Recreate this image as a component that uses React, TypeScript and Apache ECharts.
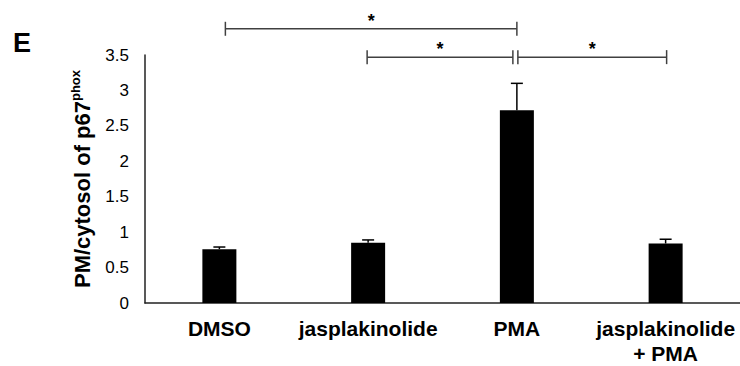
import React, { useEffect, useRef } from "react";
import * as echarts from "echarts";

const categories = ["DMSO", "jasplakinolide", "PMA", "jasplakinolide\n+ PMA"];
const means = [0.76, 0.85, 2.72, 0.84];
const errors = [0.03, 0.04, 0.38, 0.06];
// significance brackets: [fromCategoryIndex, toCategoryIndex, level (axis units)]
const brackets: [number, number, number][] = [
  [0, 2, 3.87],
  [1, 2, 3.47],
  [2, 3, 3.47],
];
const bracketLabels = ["*", "*", "*"];

const FONT = "'Liberation Sans', Arial, Helvetica, sans-serif";

export default function App() {
  const ref = useRef<HTMLDivElement>(null);
  useEffect(() => {
    if (!ref.current) return;
    const chart = echarts.init(ref.current, undefined, { renderer: "svg" });
    // pixel nudges for bracket ends (from, to) to mimic hand placement
    const nudges: [number, number][] = [
      [6, 0],
      [-1, -4],
      [1, 1],
    ];
    chart.setOption({
      animation: false,
      backgroundColor: "#ffffff",
      graphic: [
        {
          type: "text",
          left: 13,
          top: 29,
          style: { text: "E", font: `bold 27px ${FONT}`, fill: "#000" },
        },
      ],
      grid: { left: 145, top: 55, width: 598, bottom: 61, containLabel: false },
      xAxis: {
        type: "category",
        data: categories,
        axisLine: { show: true, lineStyle: { color: "#222", width: 1.5 } },
        axisTick: { show: false },
        axisLabel: {
          interval: 0,
          margin: 13,
          color: "#000",
          fontFamily: FONT,
          fontWeight: "bold",
          fontSize: 21,
          lineHeight: 25,
        },
      },
      yAxis: {
        type: "value",
        min: 0,
        max: 3.5,
        interval: 0.5,
        splitLine: { show: false },
        axisTick: { show: false },
        axisLine: { show: true, lineStyle: { color: "#222", width: 1.5 } },
        axisLabel: {
          margin: 16,
          color: "#000",
          fontFamily: FONT,
          fontSize: 17,
        },
        name: "{m|PM/cytosol of p67}{s|phox}",
        nameLocation: "middle",
        nameGap: 52,
        nameRotate: 90,
        nameTextStyle: {
          rich: {
            m: { fontFamily: FONT, fontWeight: "bold", fontSize: 22, color: "#000", lineHeight: 24, verticalAlign: "bottom" },
            s: { fontFamily: FONT, fontWeight: "bold", fontSize: 13, color: "#000", lineHeight: 24, verticalAlign: "top", padding: [0, 0, 9, 0] },
          },
        },
      },
      series: [
        {
          type: "bar",
          data: means,
          barWidth: 34,
          itemStyle: { color: "#000" },
        },
        {
          type: "custom",
          data: means.map((m, i) => [i, m, m + errors[i]]),
          clip: false,
          z: 3,
          renderItem: (params: any, api: any) => {
            const i = api.value(0);
            const base = api.coord([i, api.value(1)]);
            const top = api.coord([i, api.value(2)]);
            const hw = 6;
            return {
              type: "group",
              children: [
                { type: "line", shape: { x1: base[0], y1: base[1], x2: top[0], y2: top[1] }, style: { stroke: "#000", lineWidth: 1.5 } },
                { type: "line", shape: { x1: top[0] - hw, y1: top[1], x2: top[0] + hw, y2: top[1] }, style: { stroke: "#000", lineWidth: 1.5 } },
              ],
            };
          },
        },
        {
          type: "custom",
          data: brackets.map((b, k) => [b[0], b[1], b[2], k]),
          clip: false,
          z: 3,
          renderItem: (params: any, api: any) => {
            const k = api.value(3);
            const a = api.coord([api.value(0), api.value(2)]);
            const b = api.coord([api.value(1), api.value(2)]);
            const x1 = a[0] + nudges[k][0];
            const x2 = b[0] + nudges[k][1];
            const y = a[1];
            const t = 7;
            const st = { stroke: "#404040", lineWidth: 1.5 };
            return {
              type: "group",
              children: [
                { type: "line", shape: { x1, y1: y, x2, y2: y }, style: st },
                { type: "line", shape: { x1, y1: y - t, x2: x1, y2: y + t }, style: st },
                { type: "line", shape: { x1: x2, y1: y - t, x2, y2: y + t }, style: st },
                {
                  type: "text",
                  x: (x1 + x2) / 2,
                  y: y + 1,
                  style: {
                    text: bracketLabels[k],
                    font: `bold 18px ${FONT}`,
                    fill: "#000",
                    align: "center",
                    verticalAlign: "bottom",
                  },
                },
              ],
            };
          },
        },
      ],
    });
    return () => chart.dispose();
  }, []);
  return (
    <div
      ref={ref}
      style={{ position: "fixed", left: 0, top: 0, width: 740, height: 366 }}
    />
  );
}
